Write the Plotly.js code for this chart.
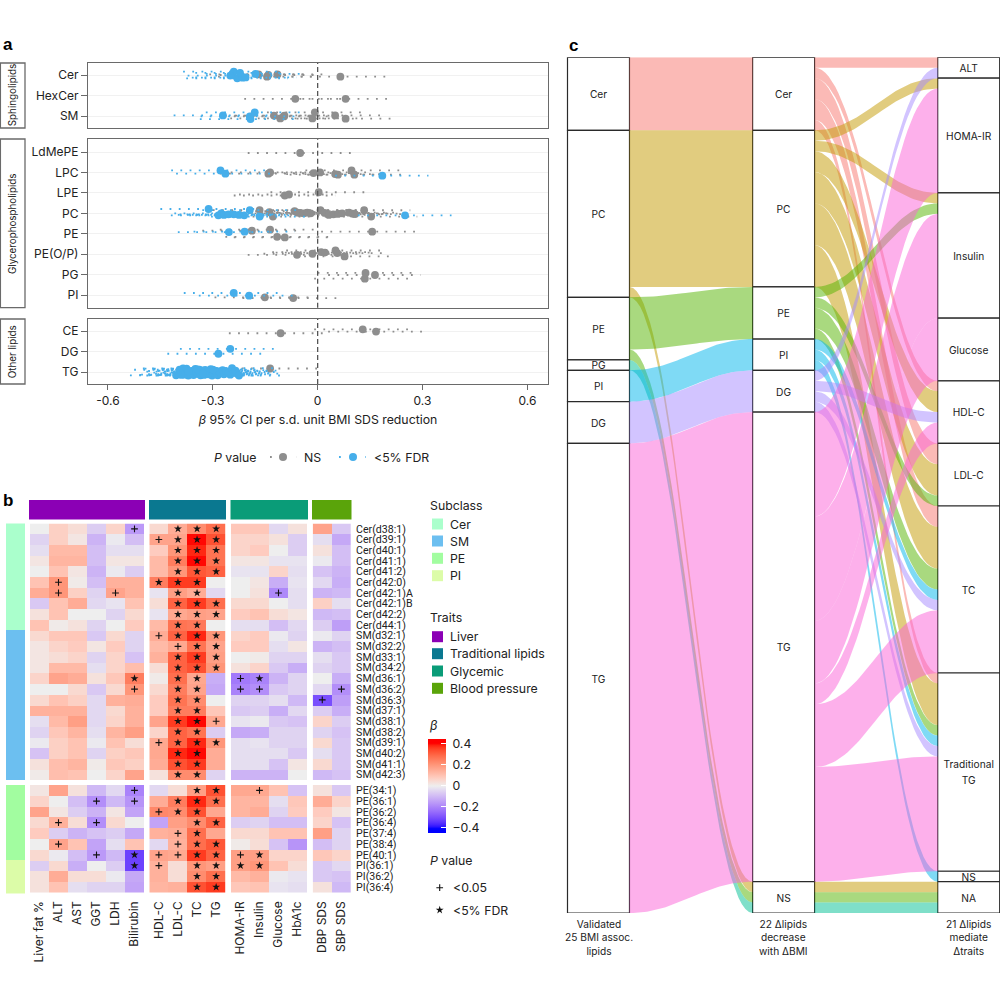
<!DOCTYPE html>
<html><head><meta charset="utf-8">
<script src="https://cdn.plot.ly/plotly-3.0.1.min.js"></script>
<style>html,body{margin:0;padding:0;background:#fff}#c{width:1000px;height:1000px}</style>
</head><body><div id="c"></div>
<script>
// ---------- Panel a data: [beta, ci low, ci high, row offset, FDR significant]
const rowCer=[[-.24,-.385,-.10,-.16,1],[-.23,-.376,-.085,.16,1],[-.215,-.36,-.07,.13,1],[-.206,-.35,-.06,.12,1],[-.178,-.32,-.035,-.05,1],[-.25,-.372,-.115,.03,1],[-.222,-.35,-.09,-.1,1],[-.169,-.31,-.03,-.03,0],[-.145,-.285,-.005,.08,0],[-.141,-.28,0,.0,0],[-.115,-.255,.025,-.03,0],[.065,-.075,.2,.08,0]];
const rowHexCer=[[-.064,-.21,.085,.16,0],[.08,-.07,.213,.16,0]];
const rowSM=[[-.271,-.412,-.13,-.03,1],[-.194,-.335,-.05,.02,1],[-.192,-.337,-.05,.15,1],[-.18,-.32,-.04,-.18,1],[-.125,-.265,.015,-.02,0],[-.107,-.25,.03,.12,0],[-.097,-.24,.045,.02,0],[-.095,-.235,.045,-.02,0],[-.015,-.155,.125,.12,0],[-.008,-.145,.13,-.18,0],[.05,-.09,.185,-.03,0],[.08,-.06,.213,.13,0]];
const rowLdMePE=[[-.05,-.2,.097,.05,0]];
const rowLPC=[[-.278,-.419,-.14,-.1,1],[-.264,-.405,-.125,.06,1],[-.141,-.28,0,.06,0],[-.136,-.275,.005,0,0],[-.012,-.15,.125,.03,0],[.007,-.13,.14,0,0],[.05,-.09,.19,.08,0],[.058,-.08,.195,.11,0],[.097,-.035,.235,-.1,0],[.105,-.03,.24,.11,0],[.185,.05,.317,.16,1]];
const rowLPE=[[-.094,-.24,.05,.13,0],[-.082,-.225,.06,.08,0],[.003,-.135,.153,-.03,0]];
const rowPC=[[-.312,-.45,-.175,-.21,1],[-.284,-.42,-.15,.1,1],[-.276,-.41,-.14,0,1],[-.268,-.40,-.13,.08,1],[-.255,-.395,-.12,.05,1],[-.24,-.375,-.105,.05,1],[-.225,-.36,-.09,.08,1],[-.21,-.35,-.07,.1,1],[-.194,-.33,-.055,-.16,1],[-.166,-.305,-.03,.16,1],[-.166,-.30,-.03,-.16,0],[-.138,-.275,0,-.05,0],[-.128,-.265,.01,.16,0],[-.066,-.205,.075,-.11,0],[-.058,-.195,.08,-.03,0],[-.05,-.19,.09,-.02,0],[-.04,-.18,.1,0,0],[-.03,-.17,.11,-.03,0],[-.02,-.16,.12,0,0],[.008,-.13,.145,-.16,0],[.02,-.12,.155,-.02,0],[.032,-.105,.17,.08,0],[.045,-.09,.18,.05,0],[.058,-.08,.195,.03,0],[.07,-.07,.205,.0,0],[.09,-.05,.225,-.03,0],[.1,-.04,.235,.02,0],[.107,-.03,.245,.04,0],[.133,0,.265,-.15,0],[.153,.02,.285,.16,0],[.25,.115,.383,.1,1]];
const rowPE=[[-.254,-.4,-.11,-.08,1],[-.209,-.355,-.065,-.1,1],[-.188,-.33,-.045,-.15,0],[-.136,-.28,.005,-.2,0],[-.116,-.264,.03,.15,0],[-.094,-.24,.036,.18,0],[.156,.01,.288,-.1,0]];
const rowPEOP=[[-.059,-.2,.085,.03,0],[-.015,-.155,.125,-.02,0],[.01,-.13,.15,-.1,0],[.021,-.12,.16,-.08,0],[.051,-.09,.19,-.18,0],[.056,-.085,.195,-.05,0],[.077,-.065,.213,.11,0]];
const rowPG=[[.137,0,.27,-.08,0],[.135,-.01,.266,.2,0],[.164,.03,.294,.02,0]];
const rowPI=[[-.24,-.383,-.1,-.1,1],[-.196,-.34,-.055,.03,1],[-.151,-.295,-.01,.11,0],[-.07,-.215,.059,.15,0]];
const rowCE=[[-.106,-.254,.03,.11,0],[.129,-.01,.26,-.08,0],[.167,.03,.299,.03,0]];
const rowDG=[[-.25,-.394,-.115,-.13,1],[-.284,-.43,-.148,.11,1]];
const rowTG=[[-.405,-.537,-.27,.16,1],[-.395,-.525,-.26,-.11,1],[-.39,-.51,-.265,.14,1],[-.385,-.50,-.26,-.17,1],[-.38,-.505,-.25,.13,1],[-.375,-.495,-.25,-.16,1],[-.37,-.49,-.245,.17,1],[-.365,-.485,-.24,.10,1],[-.36,-.485,-.235,-.05,1],[-.355,-.48,-.23,.15,1],[-.35,-.47,-.225,-.15,1],[-.347,-.47,-.22,.03,1],[-.342,-.465,-.215,.09,1],[-.338,-.46,-.215,-.11,1],[-.335,-.46,-.21,.16,1],[-.33,-.455,-.205,-.06,1],[-.325,-.45,-.2,.14,1],[-.322,-.445,-.195,-.1,1],[-.318,-.44,-.195,.05,1],[-.314,-.44,-.19,-.03,1],[-.31,-.435,-.185,.12,1],[-.306,-.43,-.18,-.14,1],[-.302,-.425,-.175,.17,1],[-.298,-.42,-.175,.02,1],[-.294,-.42,-.17,-.07,1],[-.29,-.415,-.165,.09,1],[-.286,-.41,-.16,.16,1],[-.282,-.405,-.155,-.03,1],[-.278,-.40,-.155,.06,1],[-.272,-.395,-.15,-.09,1],[-.268,-.39,-.145,.11,1],[-.262,-.385,-.135,-.04,1],[-.255,-.38,-.13,.04,1],[-.25,-.375,-.125,.13,1],[-.245,-.37,-.115,-.19,1],[-.24,-.365,-.115,.0,1],[-.235,-.36,-.11,-.07,1],[-.23,-.355,-.105,.08,1],[-.225,-.35,-.097,.17,1],[-.37,-.49,-.25,-.02,1],[-.344,-.47,-.22,-.13,1],[-.328,-.45,-.2,.07,1],[-.3,-.42,-.17,-.12,1],[-.136,-.27,0,-.17,0]];

// ---------- Panel b data
const rowNamesTop=["Cer(d38:1)","Cer(d39:1)","Cer(d40:1)","Cer(d41:1)","Cer(d41:2)","Cer(d42:0)","Cer(d42:1)A","Cer(d42:1)B","Cer(d42:2)","Cer(d44:1)","SM(d32:1)","SM(d32:2)","SM(d33:1)","SM(d34:2)","SM(d36:1)","SM(d36:2)","SM(d36:3)","SM(d37:1)","SM(d38:1)","SM(d38:2)","SM(d39:1)","SM(d40:2)","SM(d41:1)","SM(d42:3)"];
const rowNamesBottom=["PE(34:1)","PE(36:1)","PE(36:2)","PE(36:4)","PE(37:4)","PE(38:4)","PE(40:1)","PI(36:1)","PI(36:2)","PI(36:4)"];
const traitsLiver=["Liver fat %","ALT","AST","GGT","LDH","Bilirubin"];
const traitsLipids=["HDL-C","LDL-C","TC","TG"];
const traitsGlycemic=["HOMA-IR","Insulin","Glucose","HbA1c"];
const traitsBP=["DBP SDS","SBP SDS"];
const zLiver=[[0,.07,.04,-.06,.06,-.16],[-.05,.07,.02,-.11,-.01,-.09],[-.03,.12,.12,-.09,-.03,-.03],[.02,.13,.13,-.09,.02,.02],[0,.1,.02,-.11,-.01,-.06],[.1,.2,.01,-.09,.14,.14],[.15,.2,.07,-.05,.17,.14],[-.07,.1,.15,-.04,-.02,.1],[.03,.1,0,0,-.05,.05],[.1,.01,.03,-.05,0,.08],[.05,.09,.09,-.07,.05,-.05],[.02,.06,.08,.02,.08,-.05],[.02,.04,.06,-.05,.06,-.08],[.02,.12,.12,-.03,.06,.11],[.06,.17,.15,.03,.09,.25],[0,0,.05,-.07,.05,.2],[.05,.1,.07,-.04,.14,.15],[.14,.14,.14,-.04,.05,.14],[-.03,.12,.18,-.04,.06,.14],[-.05,.09,.13,-.03,.13,.18],[-.01,.07,.1,-.01,.1,.04],[-.08,.07,.1,-.05,.07,.09],[.03,.11,.13,.01,.09,.07],[.01,.11,.1,0,.06,.17],
[.02,.17,.03,-.1,-.04,-.2],[.06,0,-.09,-.18,-.1,-.17],[.17,.02,-.06,-.11,.02,-.14],[.05,.14,.04,-.18,.05,0],[.08,-.06,-.11,-.08,-.06,-.13],[0,.17,.1,-.14,-.03,.1],[.05,-.01,-.09,-.16,-.1,-.32],[-.06,.05,-.12,0,-.06,-.32],[.03,.15,.04,.04,-.01,-.13],[.03,.1,-.03,-.05,-.05,-.14]];
const zLipids=[[.05,.15,.22,.28],[.17,.17,.4,.33],[.08,.2,.38,.27],[.12,.25,.4,.27],[.12,.2,.32,.3],[.25,.36,.36,0],[-.02,.18,.15,-.04],[.04,.3,.36,.28],[-.02,.16,.18,.17],[.12,.27,.26,0],[.15,.3,.38,.2],[.12,.16,.27,.17],[.14,.3,.36,.18],[.04,.3,.33,.2],[.01,.28,.16,-.12],[.05,.25,.17,-.13],[.08,.27,.22,0],[.08,.25,.25,.09],[.17,.36,.4,.16],[.06,.3,.27,-.06],[.16,.3,.38,.2],[.16,.38,.4,.15],[.15,.33,.36,.15],[.03,.22,.22,-.05],
[-.04,.04,.18,.33],[.15,.25,.38,.28],[.23,.22,.33,.16],[-.14,.18,.22,.3],[.14,.15,.28,.16],[-.04,.14,.28,.32],[.17,.16,.36,.3],[.14,.04,.2,.18],[.14,.04,.22,.28],[.13,.14,.33,.36]];
const zGlycemic=[[.09,.09,-.04,.03],[.06,.06,.03,-.06],[.06,.08,0,-.06],[.02,.02,-.02,-.02],[-.02,-.02,.06,-.03],[0,.02,-.12,-.02],[0,.03,-.19,-.03],[.05,.05,0,-.03],[.08,.1,.04,.02],[-.03,-.03,-.09,-.04],[.06,.08,-.01,-.05],[.08,.08,-.03,.02],[0,.01,-.05,-.05],[.03,.06,-.07,-.12],[-.22,-.2,-.11,-.05],[-.2,-.18,-.07,-.05],[-.05,-.05,-.03,-.1],[-.07,-.06,-.12,-.04],[-.02,-.01,-.07,-.08],[-.13,-.12,-.05,-.05],[-.03,-.02,-.05,-.05],[-.03,-.03,-.03,-.07],[-.03,-.03,-.08,.02],[-.11,-.11,-.11,0],
[.16,.16,.1,-.08],[.13,.13,-.03,.09],[.13,.15,-.05,.08],[-.06,-.05,-.09,-.09],[.05,.05,.1,.1],[.01,.04,-.08,-.17],[.18,.18,.06,.06],[.18,.2,.1,.04],[.12,.14,-.01,-.02],[.09,.1,-.02,-.03]];
const zBP=[[.17,-.07],[-.03,-.13],[.03,-.09],[-.01,-.09],[-.08,-.11],[-.04,-.12],[-.11,-.1],[.07,-.03],[-.1,-.09],[-.06,-.15],[-.01,-.05],[-.11,-.09],[-.03,-.07],[-.05,-.07],[0,-.12],[-.04,-.18],[-.3,-.15],[-.06,-.12],[.06,-.06],[-.05,-.08],[.05,-.07],[-.03,-.07],[.05,-.07],[-.1,-.08],
[.03,-.07],[.15,.06],[.08,.02],[.06,-.08],[.18,-.05],[-.09,-.05],[.09,.06],[-.07,-.04],[-.07,-.08],[.03,-.1]];
// significance per row: + is P<0.05, * is <5% FDR, groups separated by |
const sigMarks=[".....+|.***|....|..","......|+***|....|..","......|.***|....|..","......|.***|....|..","......|.***|....|..",".+....|***.|....|..",".+..+.|.**.|..+.|..","......|.***|....|..","......|.***|....|..","......|.**.|....|..","......|+***|....|..","......|.+**|....|..","......|.***|....|..","......|.***|....|..",".....*|.**.|+*..|..",".....+|.**.|++..|.+","......|.**.|....|+.","......|.**.|....|..","......|.**+|....|..","......|.**.|....|..","......|+***|....|..","......|.**.|....|..","......|.**.|....|..","......|.**.|....|..",
".....+|..**|.+..|..","...+.+|.***|....|..","......|+**.|....|..",".+.+..|..**|....|..","......|.+*.|....|..",".+....|.+**|....|..","...+.*|++**|+*..|..",".....*|+.**|**..|..","......|..**|....|..","......|..**|....|.."];

// ---------- Panel c data
const col1Names=["Cer","PC","PE","PG","PI","DG","TG"], col1Counts=[7,16,6,1,3,4,45];
const col2Names=["Cer","PC","PE","PI","DG","TG","NS"], col2Counts=[7,15,5,3,4,45,3];
const col3Names=["ALT","HOMA-IR","Insulin","Glucose","HDL-C","LDL-C","TC","Traditional TG","NS","NA"], col3Counts=[2,11,12,6,6,6,16,19,1,3];
const flowClassA=["Cer","PC","PC","PE","PE","PG","PI","DG","TG"];
const flowToA=["Cer","PC","NS","PE","NS","NS","PI","DG","TG"];
const flowNA=[7,15,1,5,1,1,3,4,45];
const flowClassB=["Cer","Cer","Cer","Cer","Cer","PC","PC","PC","PC","PC","PC","PC","PE","PE","PE","PE","PE","PG","PI","PI","PI","DG","DG","DG","DG","TG","TG","TG","TG","TG","TG"];
const flowFromB=["Cer","Cer","Cer","Cer","Cer","PC","PC","PC","PC","PC","PC","NS","PE","PE","PE","PE","NS","NS","PI","PI","PI","DG","DG","DG","DG","TG","TG","TG","TG","TG","TG"];
const flowToB=["ALT","HDL-C","LDL-C","TC","Traditional TG","HOMA-IR","Insulin","HDL-C","LDL-C","TC","Traditional TG","NA","Insulin","LDL-C","TC","Traditional TG","NA","NA","TC","Traditional TG","NS","ALT","HDL-C","TC","Traditional TG","HOMA-IR","Insulin","Glucose","HDL-C","TC","Traditional TG"];
const flowNB=[1,1,2,2,1,1,1,2,3,4,4,1,1,1,2,1,1,1,1,1,1,1,1,1,1,10,10,6,2,6,11];
const classColors={Cer:"rgba(248,118,109,.5)",PC:"rgba(196,154,0,.5)",PE:"rgba(83,180,0,.5)",PG:"rgba(0,192,148,.5)",PI:"rgba(0,182,235,.5)",DG:"rgba(165,138,255,.5)",TG:"rgba(251,97,215,.5)"};

// ---------- helpers
const FONT="Inter, 'Noto Sans', sans-serif", INK="#222";
const GRAY="#8e8e8e", BLUE="#46aeea", BOX="#6a6a6a";
const fx=v=>v/1000, fy=v=>1-v/1000;
const dom=(a,b)=>[fx(a),fx(b)], domY=(top,bot)=>[fy(bot),fy(top)];
const traces=[], shapes=[], annos=[];
const T=(text,x,y,size,opt={})=>annos.push(Object.assign({text,x:fx(x),y:fy(y),xref:'paper',yref:'paper',showarrow:false,xanchor:'left',yanchor:'middle',borderpad:0,font:{family:FONT,size,color:INK}},opt));
const R=(x0,y0,x1,y1,fill,line,lw=1)=>shapes.push({type:'rect',xref:'paper',yref:'paper',x0:fx(x0),x1:fx(x1),y0:fy(y0),y1:fy(y1),fillcolor:fill,line:{color:line||fill,width:line?lw:0},layer:'above'});

// ---------- Panel a
function forest(rows,xa,ya){
  [0,1].forEach(sig=>{
    const lx=[],ly=[],mx=[],my=[];
    rows.forEach((row,i)=>row.filter(r=>r[4]===sig).forEach(r=>{
      lx.push(r[1],r[2],null); ly.push(i+r[3],i+r[3],null); mx.push(r[0]); my.push(i+r[3]);
    }));
    const c=sig?BLUE:GRAY;
    traces.push({type:'scatter',mode:'lines',x:lx,y:ly,xaxis:xa,yaxis:ya,line:{color:c,width:1.8,dash:'1.8px,7.4px'},hoverinfo:'skip',showlegend:false});
    traces.push({type:'scatter',mode:'markers',x:mx,y:my,xaxis:xa,yaxis:ya,marker:{color:c,size:7.8},showlegend:false});
  });
}
forest([rowCer,rowHexCer,rowSM],'x','y');
forest([rowLdMePE,rowLPC,rowLPE,rowPC,rowPE,rowPEOP,rowPG,rowPI],'x2','y2');
forest([rowCE,rowDG,rowTG],'x3','y3');
const aX=(extra)=>Object.assign({domain:dom(88,548),range:[-.657,.659],showline:true,mirror:true,linecolor:BOX,linewidth:1.3,showgrid:false,zeroline:false,tickvals:[-.6,-.3,0,.3,.6],ticktext:['-0.6','-0.3','0','0.3','0.6'],ticks:'',showticklabels:false},extra);
const aY=(labels,top,bot,range)=>({domain:domY(top,bot),range,tickvals:labels.map((_,i)=>i),ticktext:labels,ticks:'outside',ticklen:6,tickcolor:BOX,showline:true,mirror:true,linecolor:BOX,linewidth:1.3,showgrid:true,gridcolor:'#f1f1f1',gridwidth:1,zeroline:false,tickfont:{family:FONT,size:12,color:INK}});
["x","x2","x3"].forEach((x,i)=>shapes.push({type:'line',xref:x,yref:(i?'y'+(i+1):'y')+' domain',x0:0,x1:0,y0:0,y1:1,line:{color:'#555',width:1.3,dash:'5px,3px'},layer:'above'}));
[[0.4,63,25,128,'Sphingolipids'],[0.4,139,25,307.7,'Glycerophospholipids'],[0.4,319,25,384,'Other lipids']].forEach(s=>{
  R(s[0],s[1],s[2],s[3],'#fff',BOX,1.3);
  T(s[4],(s[0]+s[2])/2,(s[1]+s[3])/2,9.8,{textangle:-90,xanchor:'center'});
});
// legend of panel a drawn on a page-sized overlay axis
const legKey=(x0,x1,xm,c)=>{
  traces.push({type:'scatter',mode:'lines',x:[x0,x1],y:[457,457],xaxis:'x7',yaxis:'y7',line:{color:c,width:1.8,dash:'1.8px,24.6px'},hoverinfo:'skip',showlegend:false});
  traces.push({type:'scatter',mode:'markers',x:[xm],y:[457],xaxis:'x7',yaxis:'y7',marker:{color:c,size:8},hoverinfo:'skip',showlegend:false});
};
legKey(270,296.5,283,GRAY); legKey(339,366,353,BLUE);
T('<i>P</i> value',213,457,12.3); T('NS',303,457,12.3); T('&lt;5% FDR',373,457,12.3);

// ---------- Panel b
const lab2rgb=(L,a,b)=>{const f=t=>t>6/29?t*t*t:3*36/841*(t-4/29);const y=(L+16)/116,X=.95047*f(y+a/500),Y=f(y),Z=1.08883*f(y-b/200);
 const g=c=>{c=Math.max(0,Math.min(1,c));return Math.round(255*(c<=.0031308?12.92*c:1.055*Math.pow(c,1/2.4)-.055));};
 return [g(3.2406*X-1.5372*Y-.4986*Z),g(-.9689*X+1.8758*Y+.0415*Z),g(.0557*X-.204*Y+1.057*Z)];};
const LAB_BLUE=[32.3,79.2,-107.9],LAB_MID=[94.1,0,0],LAB_RED=[53.2,80.1,67.2],ZMAX=.445,ZSAT=.4;
const colorscale=[];
for(let i=0;i<=44;i++){const v=-ZMAX+2*ZMAX*i/44,r=Math.min(1,Math.abs(v)/ZSAT),e=v<0?LAB_BLUE:LAB_RED;
 const c=lab2rgb(LAB_MID[0]+(e[0]-LAB_MID[0])*r,LAB_MID[1]+(e[1]-LAB_MID[1])*r,LAB_MID[2]+(e[2]-LAB_MID[2])*r);
 colorscale.push([i/44,`rgb(${c[0]},${c[1]},${c[2]})`]);}
const groups=[[traitsLiver,zLiver,'x4'],[traitsLipids,zLipids,'x5'],[traitsGlycemic,zGlycemic,'x6'],[traitsBP,zBP,'x8']];
const blocks=[[rowNamesTop,0,'y4'],[rowNamesBottom,rowNamesTop.length,'y5']];
const PLUS={symbol:'cross-thin',size:4.8,line:{color:'#111',width:1.1}}, STAR={symbol:'star',size:6,color:'#111'};
blocks.forEach(([rows,off,ya])=>groups.forEach(([traits,z,xa],g)=>{
  traces.push({type:'heatmap',x:traits,y:rows,z:z.slice(off,off+rows.length),xaxis:xa,yaxis:ya,coloraxis:'coloraxis'});
  const m={'+':[[],[]],'*':[[],[]]};
  rows.forEach((r,i)=>{const s=sigMarks[off+i].split('|')[g];traits.forEach((t,j)=>{if(m[s[j]]){m[s[j]][0].push(t);m[s[j]][1].push(r);}});});
  traces.push({type:'scatter',mode:'markers',x:m['+'][0],y:m['+'][1],xaxis:xa,yaxis:ya,marker:PLUS,showlegend:false,hoverinfo:'skip'});
  traces.push({type:'scatter',mode:'markers',x:m['*'][0],y:m['*'][1],xaxis:xa,yaxis:ya,marker:STAR,showlegend:false,hoverinfo:'skip'});
}));
const bX=(a,b,traits)=>({domain:dom(a,b),anchor:'y5',type:'category',categoryorder:'array',categoryarray:traits,range:[-.5,traits.length-.5],showline:false,showgrid:false,zeroline:false,ticks:'outside',ticklen:3,tickcolor:'rgba(0,0,0,0)',tickangle:-90,tickfont:{family:FONT,size:12,color:INK}});
const bY=(top,bot,rows)=>({domain:domY(top,bot),anchor:'x8',side:'right',type:'category',categoryorder:'array',categoryarray:rows,range:[rows.length-.5,-.5],showline:false,showgrid:false,zeroline:false,ticks:'outside',ticklen:2,tickcolor:'rgba(0,0,0,0)',tickfont:{family:"Roboto, Inter, sans-serif",size:10.6,color:INK},dtick:1});
[[29,145,'#8b00b5'],[149,226,'#0a7890'],[230.5,308,'#0a9c78'],[312,351.5,'#5aa40a']].forEach(b=>R(b[0],500,b[1],519.5,b[2]));
[[523.5,630,'#aaffcc'],[630,780,'#6cbff0'],[785,860,'#a2fda0'],[860,893.5,'#dcfca8']].forEach(b=>R(6,b[0],25,b[1],b[2]));
T('Subclass',428.5,505,12.3);
[['Cer','#aaffcc',524],['SM','#6cbff0',541],['PE','#a2fda0',558.3],['PI','#dcfca8',575.7]].forEach(l=>{R(432,l[2]-5.5,443,l[2]+5.5,l[1]);T(l[0],449,l[2],12.3);});
T('Traits',428.5,617.7,12.3);
[['Liver','#8b00b5',636.7],['Traditional lipids','#0a7890',653.7],['Glycemic','#0a9c78',671],['Blood pressure','#5aa40a',688.3]].forEach(l=>{R(432,l[2]-5.5,443,l[2]+5.5,l[1]);T(l[0],449,l[2],12.3);});
T('<i>β</i>',428,725,12.5);
T('<i>P</i> value',428.5,860,12.3);
traces.push({type:'scatter',mode:'markers',x:[439.7],y:[887.7],xaxis:'x7',yaxis:'y7',marker:PLUS,showlegend:false,hoverinfo:'skip'});
traces.push({type:'scatter',mode:'markers',x:[439.7],y:[910],xaxis:'x7',yaxis:'y7',marker:STAR,showlegend:false,hoverinfo:'skip'});
T('&lt;0.05',451.7,887.7,12.3); T('&lt;5% FDR',451.7,910,12.3);
// left-side white colorbar ticks
[744.3,765,786,806.7,828.3].forEach(y=>shapes.push({type:'line',xref:'paper',yref:'paper',x0:fx(428.3),x1:fx(433),y0:fy(y),y1:fy(y),line:{color:'#fff',width:1},layer:'above'}));

// ---------- Panel c
const W=.335, LABEL_NUDGE=.17, LINE_GAP=.77;
function stack(names,counts){let c=0;const o={};names.forEach((n,i)=>{o[n]=c;c+=counts[i];});return o;}
const st1=stack(col1Names,col1Counts),st2=stack(col2Names,col2Counts),st3=stack(col3Names,col3Counts);
function flow(xa,xb,ya0,ya1,yb0,yb1,color){
  const K=.4,N=40,xs=[],ys=[],bez=(a,b,t)=>{const u=1-t;return [3*u*u*t*(xa+K*(xb-xa))+3*u*t*t*(xb-K*(xb-xa))+u*u*u*xa+t*t*t*xb,(u*u*u+3*u*u*t)*a+(3*u*t*t+t*t*t)*b];};
  for(let i=0;i<=N;i++){const p=bez(ya0,yb0,i/N);xs.push(p[0]);ys.push(p[1]);}
  for(let i=N;i>=0;i--){const p=bez(ya1,yb1,i/N);xs.push(p[0]);ys.push(p[1]);}
  traces.push({type:'scatter',mode:'lines',x:xs,y:ys,xaxis:'x9',yaxis:'y9',fill:'toself',fillcolor:color,line:{width:0},hoverinfo:'skip',showlegend:false});
}
flowClassA.forEach((c,i)=>{const n=flowNA[i],a=st1[c],b=st2[flowToA[i]];flow(1+W/2,2-W/2,a,a+n,b,b+n,classColors[c]);st1[c]+=n;st2[flowToA[i]]+=n;});
const st2b=stack(col2Names,col2Counts);
flowClassB.forEach((c,i)=>{const n=flowNB[i],a=st2b[flowFromB[i]],b=st3[flowToB[i]];flow(2+W/2,3-W/2,a,a+n,b,b+n,classColors[c]);st2b[flowFromB[i]]+=n;st3[flowToB[i]]+=n;});
[[col1Names,col1Counts,1],[col2Names,col2Counts,2],[col3Names,col3Counts,3]].forEach(([names,counts,x])=>{
  const s=stack(names,counts),tx=[],ty=[],tt=[];
  names.forEach((n,i)=>{const mid=s[n]+counts[i]/2+LABEL_NUDGE,parts=n.split(' ');
    parts.forEach((p,k)=>{tx.push(x);ty.push(mid+(k-(parts.length-1)/2)*2*LINE_GAP);tt.push(p);});});
  traces.push({type:'bar',x:names.map(_=>x),y:counts,base:names.map(n=>s[n]),width:W,xaxis:'x9',yaxis:'y9',marker:{color:'#fff',line:{color:'#2a2a2a',width:1.2}},cliponaxis:false,hoverinfo:'skip',showlegend:false});
  traces.push({type:'scatter',mode:'text',x:tx,y:ty,text:tt,textposition:'middle center',textfont:{family:FONT,size:10.2,color:INK},xaxis:'x9',yaxis:'y9',hoverinfo:'skip',showlegend:false,cliponaxis:false});
});
T('Validated<br>25 BMI assoc.<br>lipids',598.5,937.5,10.2,{xanchor:'center'});
T('22 Δlipids<br>decrease<br>with ΔBMI',783.7,937.5,10.2,{xanchor:'center'});
T('21 Δlipids<br>mediate<br>Δtraits',968.7,937.5,10.2,{xanchor:'center'});

// panel letters
const bold={family:"'Liberation Sans', Arial, sans-serif",size:17,color:'#000',weight:700};
[['a',2,44],['b',2,500],['c',568,45]].forEach(l=>T('<b>'+l[0]+'</b>',l[1],l[2],17,{font:bold}));

const layout={width:1000,height:1000,margin:{l:0,r:0,t:0,b:0},paper_bgcolor:'#fff',plot_bgcolor:'rgba(0,0,0,0)',showlegend:false,barmode:'overlay',
 font:{family:FONT,color:INK},shapes,annotations:annos,
 xaxis:aX({anchor:'y'}),yaxis:aY(['Cer','HexCer','SM'],63,128,[2.585,-.585]),
 xaxis2:aX({anchor:'y2'}),yaxis2:aY(['LdMePE','LPC','LPE','PC','PE','PE(O/P)','PG','PI'],139,307.7,[7.62,-.636]),
 xaxis3:aX({anchor:'y3',ticks:'outside',ticklen:5,tickcolor:BOX,showticklabels:true,tickfont:{family:FONT,size:12,color:INK},title:{text:'<i>β</i> 95% CI per s.d. unit BMI SDS reduction',font:{family:FONT,size:12.3,color:INK},standoff:8}}),
 yaxis3:aY(['CE','DG','TG'],319,384,[2.585,-.585]),
 xaxis4:bX(30,144,traitsLiver),xaxis5:bX(149.3,225.7,traitsLipids),xaxis6:bX(231,307,traitsGlycemic),xaxis8:bX(312.7,351,traitsBP),
 yaxis4:bY(523.5,780,rowNamesTop),yaxis5:bY(785,892.5,rowNamesBottom),
 xaxis7:{domain:[0,1],range:[0,1000],visible:false,anchor:'y7'},yaxis7:{domain:[0,1],range:[1000,0],visible:false,anchor:'x7'},
 xaxis9:{domain:[0,1],range:[1+(0-598.5)/185.1,1+(1000-598.5)/185.1],visible:false,anchor:'y9'},
 yaxis9:{domain:domY(57.3,913),range:[82,0],visible:false,anchor:'x9'},
 coloraxis:{cmin:-ZMAX,cmax:ZMAX,colorscale,colorbar:{x:fx(428.3),xanchor:'left',xref:'paper',y:fy(832.7),yanchor:'bottom',yref:'paper',lenmode:'pixels',len:93.7,thicknessmode:'pixels',thickness:17.7,xpad:0,ypad:0,outlinewidth:0,tickmode:'array',tickvals:[-.4,-.2,0,.2,.4],ticktext:['\u00a0−0.4','\u00a0−0.2','\u00a00','\u00a00.2','\u00a00.4'],ticks:'inside',ticklen:5,tickcolor:'#fff',tickwidth:1,tickfont:{family:FONT,size:12.3,color:INK}}}
};
Plotly.newPlot('c',traces,layout,{displayModeBar:false,responsive:false});
</script></body></html>
